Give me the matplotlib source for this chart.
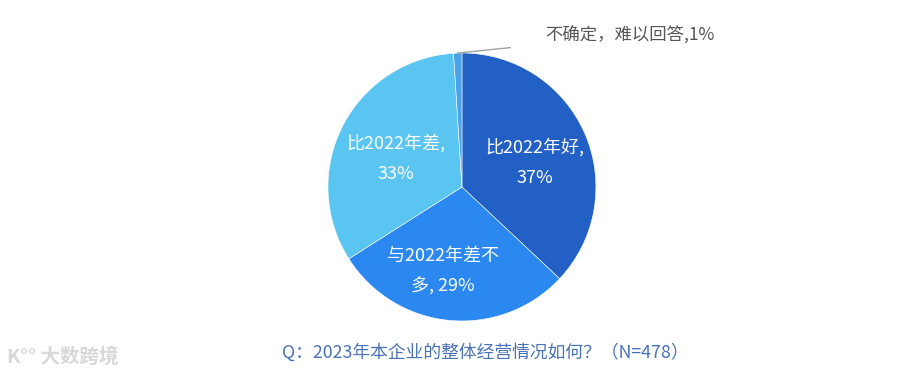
import matplotlib
matplotlib.use('Agg')
import matplotlib.pyplot as plt

plt.rcParams['font.family'] = ['Noto Sans CJK SC', 'DejaVu Sans']

# slices, clockwise from 12 o'clock
labels = ['比2022年好', '与2022年差不多', '比2022年差', '不确定，难以回答']
values = [37, 29, 33, 1]
colors = ['#2360c6', '#2b88f0', '#5bc5f1', '#4aa2ea']
inner_text = ['比2022年好,\n37%', '与2022年差不\n多, 29%', '比2022年差,\n33%']
title = 'Q：2023年本企业的整体经营情况如何？（N=478）'

fig = plt.figure(figsize=(9.05, 3.76), dpi=100)
ax = fig.add_axes([0.3624, 0.1463, 0.2961, 0.7128])

wedges, _ = ax.pie(values, colors=colors, startangle=90, counterclock=False,
                   radius=1, wedgeprops=dict(edgecolor='white', linewidth=0.4))
ax.set_xlim(-1, 1)
ax.set_ylim(-1, 1)
ax.set_aspect('equal')

# inner labels (positions in axes units)
spots = [(0.545, 0.185), (-0.14, -0.63), (-0.49, 0.215)]
for (x, y), t in zip(spots, inner_text):
    ax.text(x, y, t, ha='center', va='center', color='white',
            fontsize=13, linespacing=1.9, fontweight='light')

# the tiny slice gets an outside label with a leader line
ax.plot([-0.03, 0.36], [1.0, 1.04], color='#a0a0a0', lw=1, clip_on=False)
ax.text(0.62, 1.13, '不确定，难以回答,1%', ha='left', va='center',
        color='#555555', fontsize=12.5, clip_on=False, fontweight='light')

fig.text(0.536, 0.062, title, ha='center', va='center', color='#4a72b8',
         fontsize=12.8, fontweight='light')
fig.text(0.008, 0.05, 'K°° 大数跨境', ha='left', va='center', color='#d8d8d8',
         fontsize=14, fontweight='bold')

fig.savefig('out.png', dpi=100)
